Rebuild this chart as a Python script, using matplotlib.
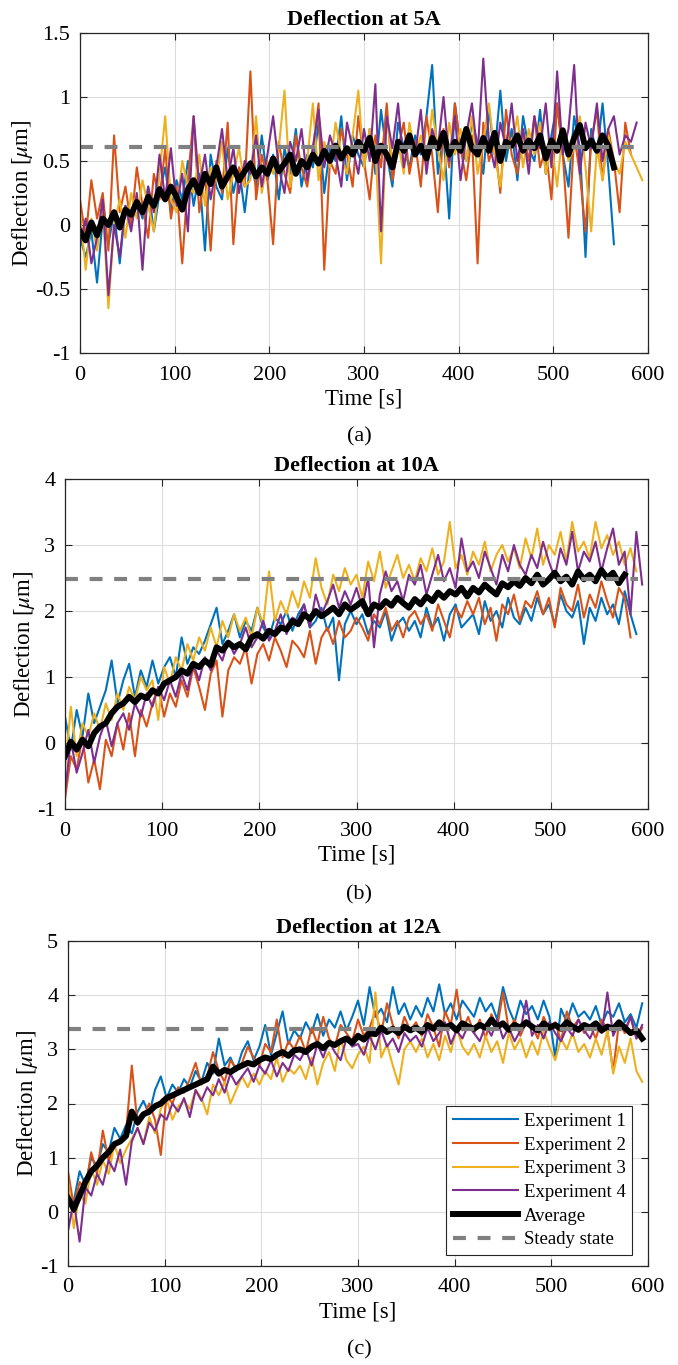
import numpy as np
import matplotlib
matplotlib.use('Agg')
import matplotlib.pyplot as plt
from matplotlib.ticker import FormatStrFormatter

plt.rcParams['font.family'] = ['Liberation Serif', 'DejaVu Serif']
plt.rcParams['mathtext.fontset'] = 'stix'
plt.rcParams['axes.unicode_minus'] = False

# sample spacing of the hand-read traces [s]
dt = 6.0

# ---- Deflection at 5A ----
a_exp1 = [-0.10, -0.25, -0.05, -0.45, 0.05, -0.15, 0.10, -0.30, 0.15, 0.00,
          0.20, 0.05, 0.30, -0.05, 0.25, 0.45, 0.10, 0.35, 0.20, 0.50,
          0.15, 0.40, -0.20, 0.55, 0.30, 0.20, 0.60, 0.25, 0.45, 0.10,
          0.50, 0.30, 0.70, 0.35, 0.55, 0.20, 0.60, 0.40, 0.75, 0.30,
          0.55, 0.45, 0.80, 0.25, 0.60, 0.50, 0.85, 0.35, 0.70, 0.55,
          0.45, 0.75, 0.40, 0.90, 0.55, 0.30, 0.80, 0.60, 0.45, 0.70,
          0.55, 0.85, 1.25, 0.40, 0.70, 0.05, 0.95, 0.60, 0.50, 0.80,
          0.65, 0.40, 0.90, 0.55, 1.05, 0.50, 0.75, 0.35, 0.85, 0.60,
          0.50, 0.90, 0.40, 0.70, 0.95, 0.55, 0.30, 0.85, 0.60, -0.25,
          0.75, 0.55, 0.95, 0.45, -0.15]
a_exp2 = [0.20, -0.10, 0.35, 0.05, 0.25, -0.20, 0.70, 0.10, 0.30, 0.00,
          0.45, 0.15, -0.10, 0.40, 0.20, 0.60, 0.05, 0.30, -0.30, 0.35,
          0.85, 0.10, 0.40, -0.20, 0.50, 0.25, 0.80, -0.15, 0.45, 0.30,
          1.20, 0.20, 0.55, 0.35, -0.15, 0.65, 0.40, 0.25, 0.70, 0.45,
          0.30, 0.60, 0.95, -0.35, 0.50, 0.40, 0.75, 0.55, 0.30, 0.85,
          0.50, 0.20, 0.70, 0.45, 0.95, 0.35, 0.60, 0.80, 0.40, 0.65,
          0.30, 0.85, 0.55, 0.10, 0.75, 0.45, 0.95, 0.60, 0.35, 0.70,
          -0.30, 0.80, 0.50, 0.65, 0.25, 0.90, 0.55, 0.40, 0.75, 0.50,
          0.85, 0.45, 0.60, 0.20, 0.95, 0.55, -0.10, 0.70, 0.40, -0.05,
          0.65, 0.90, 0.35, 0.75, 0.50, 0.10, 0.80, 0.55]
a_exp3 = [0.10, -0.35, 0.05, -0.20, 0.15, -0.65, 0.00, 0.20, -0.10, 0.25,
          0.05, 0.35, 0.15, -0.05, 0.40, 0.85, 0.20, 0.10, 0.50, 0.30,
          0.25, 0.55, 0.15, 0.45, 0.35, 0.65, 0.20, 0.40, 0.60, 0.30,
          0.35, 0.85, 0.25, 0.50, 0.40, 0.60, 1.05, 0.30, 0.55, 0.45,
          0.50, 0.95, 0.35, 0.65, 0.45, 0.80, 0.55, 0.40, 0.70, 1.05,
          0.45, 0.75, 0.60, -0.30, 0.85, 0.50, 0.65, 0.40, 0.80, 0.55,
          0.70, 0.45, 0.90, 0.60, 0.35, 0.80, 0.55, 0.75, 0.50, 0.85,
          0.40, 0.65, 0.95, 0.55, 0.30, 0.70, 0.60, 0.85, 0.45, 0.75,
          0.55, 0.80, 0.40, 0.65, 0.30, 0.75, 0.50, 0.60, 0.85, 0.45,
          -0.05, 0.60, 0.35, 0.70, 0.50, 0.40, 0.65, 0.55, 0.45, 0.35]
a_exp4 = [-0.15, 0.05, -0.30, -0.10, 0.20, -0.55, 0.00, -0.25, 0.15, -0.05,
          0.25, -0.35, 0.30, 0.10, 0.55, 0.20, 0.60, 0.15, 0.40, -0.05,
          0.85, 0.30, 0.55, 0.20, 0.45, 0.75, 0.35, 0.60, 0.25, 0.50,
          0.40, 0.70, 0.30, 0.55, 0.85, 0.45, 0.25, 0.65, 0.50, 0.75,
          0.35, 0.60, 0.90, 0.45, 0.70, 0.55, 0.30, 0.80, 0.60, 0.40,
          0.75, 0.50, 1.10, -0.05, 0.85, 0.60, 0.95, 0.45, 0.70, 0.55,
          0.90, 0.40, 0.75, 0.60, 1.00, 0.50, 0.85, 0.35, 0.70, 0.95,
          0.55, 1.30, 0.65, 0.45, 0.80, 0.60, 0.95, 0.50, 0.75, 0.40,
          0.85, 0.60, 0.95, 0.45, 1.20, 0.55, 0.75, 1.25, 0.40, 0.80,
          0.60, 0.95, 0.50, 0.75, 0.85, 0.55, 0.70, 0.65, 0.80]
a_avg = [-0.05, -0.12, 0.02, -0.08, 0.05, 0.00, 0.10, -0.02, 0.12, 0.08,
         0.18, 0.10, 0.22, 0.15, 0.28, 0.20, 0.30, 0.22, 0.12, 0.28,
         0.35, 0.25, 0.40, 0.32, 0.45, 0.30, 0.38, 0.45, 0.35, 0.42,
         0.48, 0.38, 0.45, 0.40, 0.52, 0.42, 0.48, 0.55, 0.40, 0.50,
         0.45, 0.55, 0.48, 0.58, 0.50, 0.62, 0.52, 0.60, 0.55, 0.65,
         0.58, 0.68, 0.50, 0.62, 0.55, 0.45, 0.65, 0.58, 0.70, 0.55,
         0.62, 0.52, 0.68, 0.60, 0.72, 0.55, 0.65, 0.58, 0.75, 0.60,
         0.55, 0.68, 0.58, 0.72, 0.50, 0.65, 0.62, 0.70, 0.58, 0.66,
         0.60, 0.70, 0.52, 0.66, 0.58, 0.74, 0.55, 0.68, 0.78, 0.60,
         0.66, 0.58, 0.70, 0.62, 0.45]

# ---- Deflection at 10A ----
b_exp1 = [0.40, -0.10, 0.50, 0.10, 0.75, 0.30, 0.55, 0.80, 1.25, 0.60,
          0.95, 1.20, 0.70, 1.10, 0.85, 1.25, 0.90, 1.15, 1.30, 1.00,
          1.60, 1.20, 1.45, 1.35, 1.55, 1.80, 2.05, 1.50, 1.70, 1.95,
          1.60, 1.85, 1.70, 2.05, 1.75, 1.60, 1.90, 1.80, 2.00, 1.70,
          1.95, 2.10, 1.75, 1.85, 2.05, 1.70, 1.90, 0.95, 1.80, 2.00,
          1.80, 1.95, 1.65, 1.85, 1.75, 2.00, 1.55, 1.80, 1.90, 1.70,
          1.85, 1.60, 2.05, 1.75, 1.90, 1.55, 1.95, 2.10, 1.75, 1.85,
          1.95, 1.65, 2.15, 1.85, 2.00, 1.75, 2.20, 1.90, 1.80, 2.05,
          1.85, 2.20, 1.95, 2.10, 1.80, 2.25, 2.00, 1.90, 2.15, 1.50,
          2.05, 1.85, 2.20, 1.95, 2.10, 1.80, 2.30, 1.95, 1.65]
b_exp2 = [-0.85, -0.20, -0.40, 0.10, -0.60, -0.25, -0.70, 0.05, -0.20, 0.30,
          -0.10, 0.45, -0.20, 0.50, 0.25, 0.60, 0.85, 0.40, 0.75, 0.55,
          0.95, 0.70, 1.15, 0.85, 0.50, 1.05, 1.25, 0.40, 1.10, 1.30,
          1.20, 1.45, 0.90, 1.35, 1.50, 1.25, 1.60, 1.40, 1.15, 1.55,
          1.45, 1.30, 1.70, 1.20, 1.60, 1.75, 1.50, 1.85, 1.60, 1.70,
          1.90, 1.75, 1.55, 1.95, 1.80, 2.05, 1.70, 1.85, 1.60, 1.90,
          2.00, 1.80, 1.95, 1.70, 2.10, 1.85, 1.60, 2.05, 1.90, 2.15,
          1.95, 2.20, 1.80, 2.05, 1.55, 2.10, 1.95, 2.25, 1.85, 2.15,
          2.05, 2.30, 1.95, 2.20, 1.75, 2.35, 2.10, 2.00, 2.40, 1.90,
          2.25, 2.05, 2.45, 2.15, 1.90, 2.35, 2.20, 1.60]
b_exp3 = [-0.40, 0.55, -0.20, 0.30, 0.10, 0.45, 0.20, 0.60, 0.35, 0.75,
          0.50, 0.85, 0.65, 1.00, 0.80, 0.95, 0.35, 1.15, 0.90, 1.30,
          1.10, 1.50, 1.25, 1.60, 1.40, 1.75, 1.45, 1.85, 1.60, 1.95,
          1.70, 1.90, 1.60, 2.05, 1.80, 2.60, 1.85, 2.15, 1.95, 2.30,
          2.05, 2.45, 2.20, 2.80, 2.35, 2.10, 2.55, 2.30, 2.65, 2.40,
          2.55, 2.20, 2.75, 2.45, 2.90, 2.35, 2.60, 2.85, 2.50, 2.70,
          2.45, 2.80, 2.60, 2.95, 2.55, 2.75, 3.35, 2.65, 2.85, 2.55,
          2.90, 2.70, 3.05, 2.60, 2.85, 3.00, 2.75, 2.95, 2.65, 3.10,
          2.80, 3.25, 2.70, 3.00, 2.85, 3.20, 2.75, 3.35, 2.90, 3.05,
          2.80, 3.35, 2.95, 3.15, 2.85, 3.05, 2.70, 2.95, 2.60]
b_exp4 = [-0.75, 0.05, -0.45, -0.15, 0.20, -0.30, 0.10, 0.35, -0.05, 0.30,
          0.45, 0.20, 0.60, 0.40, 0.75, 0.55, 0.85, 0.65, 0.95, 0.70,
          1.05, 0.80, 1.20, 0.95, 1.30, 1.10, 1.40, 1.25, 1.55, 1.35,
          1.50, 1.75, 1.45, 1.60, 1.85, 1.55, 1.70, 1.95, 1.65, 1.90,
          1.85, 2.10, 1.75, 2.25, 1.95, 2.15, 2.40, 2.05, 2.30, 2.10,
          2.35, 2.05, 2.50, 1.45, 2.25, 2.60, 2.30, 2.45, 2.15, 2.55,
          2.40, 2.70, 2.25, 2.55, 2.85, 2.45, 2.65, 2.35, 3.10, 2.60,
          2.75, 2.50, 2.90, 2.65, 2.40, 2.85, 2.60, 3.00, 2.70, 2.55,
          2.85, 2.65, 3.05, 2.75, 2.50, 2.95, 2.70, 3.20, 2.60, 2.90,
          2.75, 3.05, 2.60, 2.95, 3.25, 2.70, 2.90, 1.95, 3.20, 2.40]
b_avg = [-0.20, 0.02, -0.10, 0.05, -0.05, 0.15, 0.25, 0.30, 0.45, 0.55,
         0.60, 0.70, 0.62, 0.72, 0.68, 0.80, 0.75, 0.90, 0.95, 1.00,
         1.10, 1.05, 1.20, 1.15, 1.25, 1.18, 1.45, 1.40, 1.52, 1.45,
         1.50, 1.42, 1.60, 1.65, 1.58, 1.70, 1.65, 1.75, 1.72, 1.85,
         1.80, 1.95, 1.88, 2.00, 1.92, 1.98, 2.05, 1.95, 2.10, 2.02,
         2.08, 2.15, 1.95, 2.10, 2.05, 2.15, 2.08, 2.20, 2.12, 2.05,
         2.18, 2.10, 2.22, 2.15, 2.28, 2.20, 2.30, 2.25, 2.35, 2.22,
         2.35, 2.28, 2.40, 2.32, 2.25, 2.42, 2.36, 2.45, 2.38, 2.50,
         2.42, 2.55, 2.40, 2.48, 2.58, 2.45, 2.52, 2.40, 2.60, 2.48,
         2.55, 2.45, 2.62, 2.50, 2.58, 2.42, 2.55]

# ---- Deflection at 12A ----
c_exp1 = [0.30, 0.20, 0.75, 0.50, 1.00, 0.85, 1.25, 1.10, 1.55, 1.35,
          1.60, 1.45, 1.85, 2.05, 1.80, 2.25, 2.50, 2.10, 2.35, 2.20,
          2.45, 2.30, 2.60, 2.40, 2.75, 2.55, 3.20, 2.70, 2.85, 2.60,
          2.95, 3.15, 2.80, 3.05, 3.45, 2.90, 3.30, 3.70, 3.10, 3.35,
          3.20, 3.50, 3.30, 3.65, 3.25, 3.55, 3.40, 3.70, 3.35, 3.60,
          3.90, 3.45, 4.15, 3.60, 3.75, 3.50, 4.15, 3.65, 3.85, 3.55,
          3.80, 3.60, 3.95, 3.70, 4.20, 3.65, 3.85, 3.55, 3.90, 3.75,
          3.60, 3.95, 3.70, 3.85, 3.55, 4.15, 3.75, 3.50, 3.90, 3.65,
          3.80, 3.55, 3.90, 3.60, 2.85, 3.75, 3.50, 3.85, 3.60, 3.70,
          3.55, 3.80, 3.45, 3.70, 3.60, 3.85, 3.50, 3.65, 3.40, 3.85]
c_exp2 = [0.75, 0.10, 0.55, 0.40, 1.10, 0.70, 1.50, 0.95, 1.20, 1.35,
          1.45, 2.70, 1.60, 1.75, 2.00, 1.70, 1.05, 2.15, 2.00, 2.30,
          2.20, 2.45, 2.75, 2.35, 2.50, 2.95, 2.60, 2.40, 2.80, 2.65,
          2.75, 3.05, 2.85, 2.70, 3.10, 2.95, 3.55, 2.85, 3.15, 3.00,
          3.25, 2.95, 3.40, 3.10, 3.60, 3.20, 3.05, 3.45, 3.30, 3.15,
          3.55, 3.25, 3.40, 3.70, 3.30, 3.85, 3.45, 3.20, 3.60, 3.35,
          3.50, 3.25, 3.65, 3.40, 3.05, 3.70, 3.45, 4.10, 3.35, 3.60,
          3.30, 3.55, 3.20, 3.65, 3.40, 4.05, 3.35, 3.55, 3.25, 3.50,
          3.45, 3.20, 3.60, 3.35, 3.50, 3.15, 3.70, 3.40, 3.55, 3.30,
          3.45, 3.20, 3.55, 3.35, 2.60, 3.50, 3.30, 3.60, 3.20, 3.40]
c_exp3 = [0.60, -0.30, 0.35, 0.15, 0.80, 0.50, 0.95, 0.70, 1.25, 0.90,
          1.15, 1.35, 1.55, 1.25, 1.75, 1.45, 1.90, 2.10, 1.70, 1.95,
          2.05, 1.90, 2.25, 2.10, 1.80, 2.35, 2.15, 2.40, 2.00, 2.25,
          2.50, 2.30, 2.55, 2.35, 2.60, 2.45, 2.85, 2.40, 2.65, 2.55,
          2.70, 2.45, 2.85, 2.35, 2.75, 2.95, 2.60, 3.20, 2.80, 2.65,
          2.90, 3.05, 2.75, 4.05, 2.85, 3.10, 2.70, 2.35, 3.00, 3.15,
          2.95, 3.20, 2.85, 3.10, 2.80, 3.25, 2.95, 3.40, 3.05, 2.90,
          3.10, 2.85, 3.25, 2.95, 3.15, 2.75, 3.30, 3.00, 3.20, 2.85,
          3.15, 2.90, 3.35, 3.05, 2.80, 3.20, 3.00, 3.30, 2.95, 3.10,
          2.85, 3.20, 2.90, 3.35, 2.55, 3.05, 2.75, 3.20, 2.60, 2.40]
c_exp4 = [-0.35, 0.20, -0.55, 0.45, 0.30, 0.70, 0.50, 0.95, 0.75, 1.15,
          0.50, 1.30, 1.55, 1.25, 1.65, 1.50, 1.80, 1.70, 2.00, 1.85,
          2.10, 1.75, 2.25, 2.05, 2.30, 2.15, 2.45, 2.20, 2.55, 2.35,
          2.50, 2.65, 2.40, 2.70, 2.55, 2.80, 2.50, 2.75, 2.60, 2.90,
          2.80, 3.00, 2.70, 3.10, 2.85, 3.15, 2.95, 2.80, 3.20, 3.05,
          3.10, 2.90, 3.25, 3.00, 3.35, 3.05, 3.20, 2.95, 3.30, 3.15,
          3.25, 3.05, 3.40, 3.15, 3.30, 3.50, 3.10, 3.35, 3.20, 3.45,
          3.30, 3.15, 3.45, 3.25, 3.55, 3.20, 3.40, 3.15, 3.35, 3.90,
          3.25, 3.45, 3.20, 3.50, 3.30, 3.15, 3.40, 3.25, 3.55, 3.35,
          3.20, 3.45, 3.30, 4.05, 3.25, 3.50, 3.35, 3.60, 3.20, 3.45]
c_avg = [0.25, 0.05, 0.30, 0.55, 0.75, 0.85, 1.00, 1.10, 1.25, 1.30,
         1.40, 1.85, 1.65, 1.80, 1.85, 1.95, 2.00, 2.10, 2.15, 2.20,
         2.25, 2.30, 2.35, 2.40, 2.45, 2.68, 2.55, 2.62, 2.58, 2.65,
         2.70, 2.75, 2.72, 2.80, 2.85, 2.82, 2.90, 2.95, 2.88, 2.98,
         3.00, 2.95, 3.05, 3.10, 3.02, 3.12, 3.08, 3.15, 3.20, 3.12,
         3.25, 3.18, 3.30, 3.28, 3.40, 3.32, 3.38, 3.30, 3.42, 3.35,
         3.40, 3.32, 3.45, 3.38, 3.50, 3.40, 3.45, 3.35, 3.48, 3.42,
         3.38, 3.45, 3.40, 3.55, 3.42, 3.48, 3.36, 3.45, 3.40, 3.50,
         3.42, 3.35, 3.48, 3.40, 3.45, 3.38, 3.50, 3.42, 3.36, 3.45,
         3.40, 3.48, 3.35, 3.42, 3.38, 3.50, 3.40, 3.30, 3.35, 3.20]

titles = ['Deflection at 5A', 'Deflection at 10A', 'Deflection at 12A']
sublabels = ['(a)', '(b)', '(c)']
steady = [0.61, 2.48, 3.38]
steady_span = [0, 590]
ylims = [(-1, 1.5), (-1, 4), (-1, 5)]
yticks = [[-1, -0.5, 0, 0.5, 1, 1.5], [-1, 0, 1, 2, 3, 4], [-1, 0, 1, 2, 3, 4, 5]]
xticks = [0, 100, 200, 300, 400, 500, 600]
series = [[a_exp1, a_exp2, a_exp3, a_exp4],
          [b_exp1, b_exp2, b_exp3, b_exp4],
          [c_exp1, c_exp2, c_exp3, c_exp4]]
averages = [a_avg, b_avg, c_avg]
names = ['Experiment 1', 'Experiment 2', 'Experiment 3', 'Experiment 4']
colors = ['#0072BD', '#D95319', '#EDB120', '#7E2F8E']

# axes rectangles in figure fractions
rects = [[80 / 678, 1 - 353 / 1365, 568 / 678, 320 / 1365],
         [65 / 678, 1 - 809 / 1365, 583 / 678, 330 / 1365],
         [68 / 678, 1 - 1266 / 1365, 580 / 678, 325 / 1365]]
label_y = [1 - 437 / 1365, 1 - 895 / 1365, 1 - 1350 / 1365]

fig = plt.figure(figsize=(6.78, 13.65), dpi=100)

for k in range(3):
    ax = fig.add_axes(rects[k])
    for s, c, n in zip(series[k], colors, names):
        t = np.arange(len(s)) * dt
        ax.plot(t, s, color=c, lw=1.5, label=n)
    avg = averages[k]
    ax.plot(np.arange(len(avg)) * dt, avg, color='black', lw=4.3, label='Average')
    ax.plot(steady_span, [steady[k], steady[k]], color='#808080', lw=3,
            dashes=(3.1, 2.8), label='Steady state')

    ax.set_xlim(0, 600)
    ax.set_ylim(*ylims[k])
    ax.set_xticks(xticks)
    ax.set_yticks(yticks[k])
    ax.yaxis.set_major_formatter(FormatStrFormatter('%g'))
    ax.grid(True, color='#dcdcdc', lw=0.8)
    ax.set_axisbelow(True)
    ax.tick_params(direction='in', top=True, right=True, labelsize=16,
                   length=5, width=0.8, color='#262626')
    ax.tick_params(axis='x', pad=9)
    ax.tick_params(axis='y', pad=7)
    for sp in ax.spines.values():
        sp.set_color('#262626')
        sp.set_linewidth(0.9)
    ax.set_title(titles[k], fontsize=16, fontweight='bold', pad=6)
    ax.set_xlabel('Time [s]', fontsize=16.5, labelpad=3)
    ax.set_ylabel(r'Deflection [$\mu$m]', fontsize=16.5, labelpad=0)
    fig.text(0.53, label_y[k], sublabels[k], fontsize=16, ha='center', va='center')

    if k == 2:
        leg = ax.legend(loc='lower right', fontsize=13.5, frameon=True, fancybox=False,
                        edgecolor='#262626', framealpha=1, borderpad=0.35,
                        labelspacing=0.35, handlelength=3.5, handletextpad=0.3,
                        borderaxespad=0, bbox_to_anchor=(0.973, 0.034))
        leg.get_frame().set_linewidth(0.8)

fig.savefig('out.png', dpi=100)
